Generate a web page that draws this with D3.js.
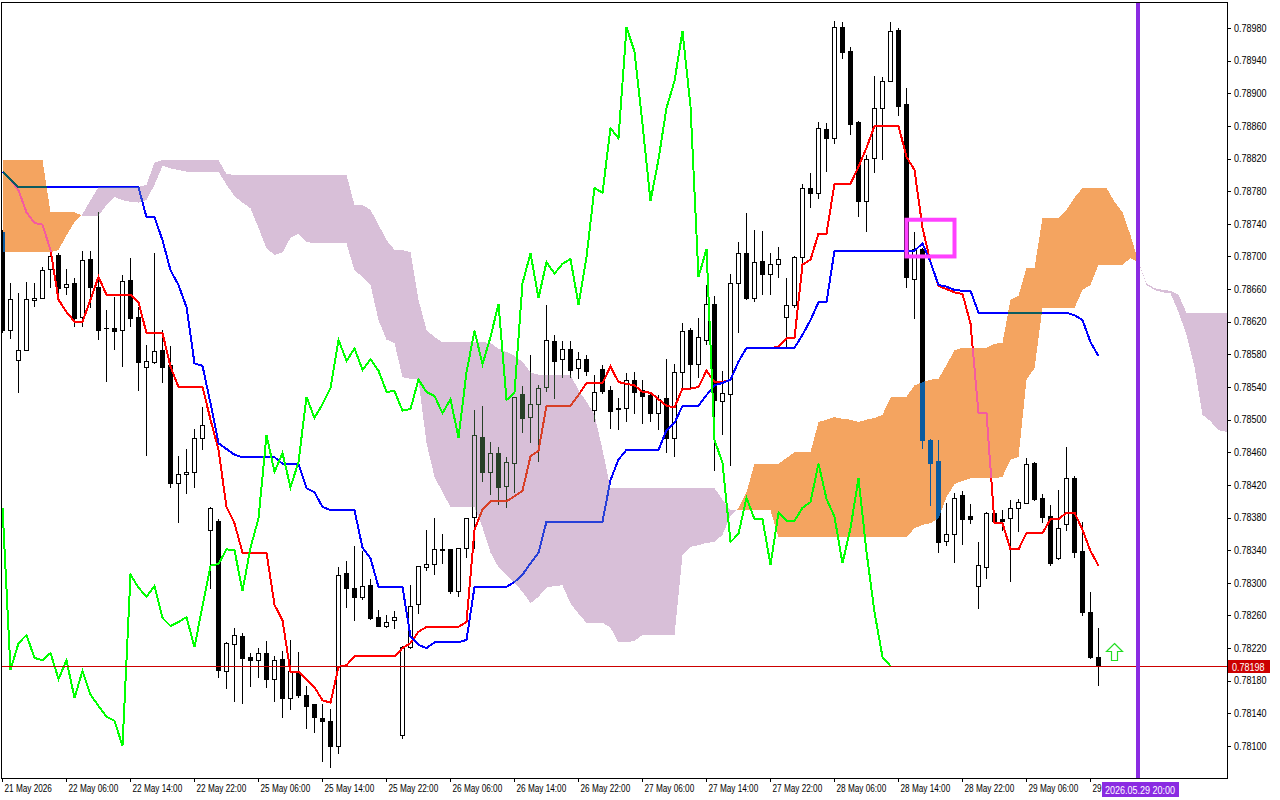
<!DOCTYPE html>
<html><head><meta charset="utf-8">
<script src="https://cdn.jsdelivr.net/npm/d3@7"></script>
<style>
html,body{margin:0;padding:0;background:#fff;}
svg{display:block;}
text{font-family:"Liberation Sans",Arial,sans-serif;font-size:10px;}
</style></head><body>
<svg id="chart" width="1280" height="800"></svg>
<script>
// ---------- DATA (H1, 21 May 2026 22:00 .. 29 May 2026 15:00) ----------
const opens = [0.78730,0.78610,0.78573,0.78585,0.78647,0.78649,0.78685,0.78702,0.78663,0.78667,
0.78626,0.78697,0.78663,0.78612,0.78612,0.78610,0.78671,0.78626,0.78565,0.78571,
0.78585,0.78567,0.78422,0.78433,0.78436,0.78478,0.78365,0.78376,0.78192,0.78225,
0.78235,0.78209,0.78205,0.78214,0.78182,0.78207,0.78159,0.78190,0.78163,0.78151,
0.78134,0.78131,0.78100,0.78312,0.78294,0.78283,0.78297,0.78258,0.78247,0.78254,
0.78113,0.78221,0.78274,0.78319,0.78323,0.78341,0.78341,0.78290,0.78343,0.78381,
0.78479,0.78436,0.78459,0.78419,0.78447,0.78531,0.78503,0.78519,0.78540,0.78596,
0.78574,0.78587,0.78563,0.78574,0.78512,0.78562,0.78536,0.78514,0.78514,0.78549,
0.78536,0.78530,0.78508,0.78527,0.78478,0.78558,0.78610,0.78568,0.78598,0.78642,
0.78523,0.78531,0.78667,0.78704,0.78649,0.78694,0.78679,0.78691,0.78626,0.78641,
0.78699,0.78784,0.78778,0.78856,0.78845,0.78981,0.78952,0.78865,0.78768,0.78821,
0.78882,0.78915,0.78978,0.78887,0.78672,0.78709,0.78475,0.78449,0.78351,0.78360,
0.78408,0.78382,0.78296,0.78319,0.78386,0.78378,0.78379,0.78392,0.78398,0.78447,
0.78404,0.78382,0.78330,0.78372,0.78428,0.78339,0.78264,0.78209];
const highs = [0.78732,0.78667,0.78655,0.78669,0.78667,0.78687,0.78705,0.78704,0.78685,0.78674,
0.78707,0.78707,0.78755,0.78634,0.78650,0.78677,0.78698,0.78638,0.78592,0.78704,
0.78610,0.78590,0.78455,0.78464,0.78489,0.78516,0.78393,0.78378,0.78228,0.78245,
0.78239,0.78214,0.78220,0.78229,0.78210,0.78216,0.78230,0.78215,0.78174,0.78152,
0.78151,0.78145,0.78319,0.78327,0.78345,0.78339,0.78305,0.78267,0.78261,0.78266,
0.78222,0.78297,0.78321,0.78365,0.78379,0.78360,0.78342,0.78343,0.78379,0.78512,
0.78517,0.78473,0.78467,0.78454,0.78528,0.78541,0.78579,0.78542,0.78641,0.78604,
0.78596,0.78596,0.78583,0.78579,0.78555,0.78567,0.78541,0.78527,0.78557,0.78558,
0.78549,0.78533,0.78530,0.78574,0.78568,0.78618,0.78612,0.78625,0.78665,0.78652,
0.78560,0.78679,0.78718,0.78753,0.78732,0.78731,0.78704,0.78712,0.78674,0.78701,
0.78789,0.78802,0.78865,0.78864,0.78989,0.78987,0.78957,0.78866,0.78824,0.78921,
0.78920,0.78987,0.78980,0.78906,0.78730,0.78710,0.78476,0.78475,0.78398,0.78410,
0.78412,0.78397,0.78350,0.78387,0.78387,0.78389,0.78402,0.78403,0.78453,0.78448,
0.78409,0.78395,0.78414,0.78467,0.78431,0.78375,0.78289,0.78245];
const lows = [0.78607,0.78600,0.78534,0.78585,0.78639,0.78649,0.78663,0.78656,0.78654,0.78615,
0.78615,0.78638,0.78599,0.78547,0.78587,0.78566,0.78615,0.78536,0.78457,0.78569,
0.78546,0.78417,0.78375,0.78410,0.78417,0.78464,0.78294,0.78185,0.78171,0.78155,
0.78153,0.78174,0.78185,0.78172,0.78155,0.78136,0.78145,0.78160,0.78122,0.78117,
0.78082,0.78074,0.78091,0.78270,0.78254,0.78280,0.78256,0.78247,0.78246,0.78245,
0.78110,0.78220,0.78263,0.78316,0.78311,0.78324,0.78288,0.78284,0.78332,0.78343,
0.78425,0.78409,0.78397,0.78393,0.78411,0.78485,0.78473,0.78449,0.78535,0.78527,
0.78552,0.78552,0.78551,0.78555,0.78498,0.78533,0.78490,0.78489,0.78498,0.78508,
0.78496,0.78498,0.78489,0.78460,0.78455,0.78540,0.78540,0.78552,0.78593,0.78438,
0.78482,0.78444,0.78607,0.78648,0.78645,0.78654,0.78654,0.78675,0.78589,0.78638,
0.78690,0.78761,0.78772,0.78805,0.78839,0.78943,0.78850,0.78750,0.78731,0.78804,
0.78819,0.78915,0.78873,0.78663,0.78625,0.78465,0.78395,0.78338,0.78346,0.78326,
0.78348,0.78373,0.78269,0.78306,0.78373,0.78365,0.78302,0.78363,0.78398,0.78402,
0.78375,0.78322,0.78329,0.78365,0.78332,0.78261,0.78208,0.78175];
const closes = [0.78610,0.78648,0.78585,0.78648,0.78649,0.78683,0.78701,0.78661,0.78666,0.78625,
0.78696,0.78663,0.78610,0.78612,0.78609,0.78670,0.78625,0.78571,0.78572,0.78584,
0.78565,0.78422,0.78433,0.78436,0.78478,0.78493,0.78392,0.78193,0.78226,0.78236,
0.78208,0.78205,0.78214,0.78182,0.78205,0.78159,0.78192,0.78163,0.78149,0.78136,
0.78131,0.78100,0.78310,0.78294,0.78283,0.78296,0.78257,0.78247,0.78252,0.78258,
0.78221,0.78272,0.78321,0.78323,0.78341,0.78340,0.78290,0.78343,0.78379,0.78481,
0.78436,0.78459,0.78417,0.78448,0.78528,0.78502,0.78519,0.78539,0.78598,0.78572,
0.78587,0.78561,0.78574,0.78560,0.78534,0.78535,0.78511,0.78513,0.78549,0.78534,
0.78529,0.78508,0.78525,0.78478,0.78558,0.78609,0.78568,0.78601,0.78642,0.78524,
0.78533,0.78667,0.78704,0.78649,0.78693,0.78679,0.78691,0.78697,0.78641,0.78699,
0.78784,0.78778,0.78857,0.78845,0.78981,0.78951,0.78862,0.78768,0.78819,0.78882,
0.78915,0.78976,0.78884,0.78675,0.78709,0.78475,0.78447,0.78350,0.78360,0.78404,
0.78378,0.78378,0.78322,0.78386,0.78376,0.78376,0.78392,0.78399,0.78446,0.78403,
0.78381,0.78324,0.78367,0.78428,0.78338,0.78264,0.78209,0.78198];

// Ichimoku: Tenkan-sen (red), Kijun-sen (blue)
const tenkan = [0.78804,0.78794,0.78781,0.78754,0.78741,0.78739,0.78708,0.78647,0.78632,0.78620,
0.78620,0.78647,0.78675,0.78653,0.78653,0.78653,0.78653,0.78644,0.78606,0.78606,
0.78606,0.78565,0.78540,0.78540,0.78540,0.78540,0.78500,0.78463,0.78393,0.78373,
0.78337,0.78337,0.78337,0.78337,0.78273,0.78254,0.78191,0.78191,0.78181,0.78172,
0.78156,0.78153,0.78197,0.78199,0.78210,0.78210,0.78210,0.78210,0.78210,0.78210,
0.78220,0.78226,0.78240,0.78246,0.78246,0.78246,0.78246,0.78246,0.78252,0.78365,
0.78390,0.78400,0.78400,0.78400,0.78406,0.78413,0.78455,0.78462,0.78517,0.78517,
0.78517,0.78517,0.78530,0.78545,0.78545,0.78545,0.78565,0.78546,0.78544,0.78542,
0.78534,0.78533,0.78525,0.78517,0.78515,0.78538,0.78538,0.78540,0.78560,0.78546,
0.78546,0.78549,0.78571,0.78588,0.78588,0.78588,0.78588,0.78589,0.78600,0.78600,
0.78690,0.78696,0.78728,0.78728,0.78789,0.78789,0.78789,0.78810,0.78833,0.78860,
0.78860,0.78860,0.78860,0.78822,0.78806,0.78735,0.78693,0.78664,0.78660,0.78656,
0.78654,0.78618,0.78508,0.78508,0.78373,0.78373,0.78341,0.78341,0.78361,0.78361,
0.78361,0.78378,0.78378,0.78386,0.78386,0.78365,0.78339,0.78321];
const kijun = [0.78804,0.78794,0.78785,0.78785,0.78785,0.78785,0.78785,0.78785,0.78785,0.78785,
0.78785,0.78785,0.78785,0.78785,0.78785,0.78785,0.78785,0.78785,0.78748,0.78748,
0.78720,0.78683,0.78665,0.78638,0.78569,0.78566,0.78520,0.78471,0.78464,0.78457,
0.78454,0.78454,0.78454,0.78454,0.78454,0.78446,0.78446,0.78446,0.78416,0.78411,
0.78393,0.78389,0.78389,0.78389,0.78389,0.78343,0.78330,0.78295,0.78295,0.78295,
0.78295,0.78234,0.78224,0.78220,0.78227,0.78227,0.78227,0.78227,0.78230,0.78295,
0.78295,0.78295,0.78295,0.78295,0.78301,0.78310,0.78324,0.78337,0.78375,0.78375,
0.78375,0.78375,0.78375,0.78375,0.78375,0.78375,0.78426,0.78451,0.78463,0.78463,
0.78463,0.78463,0.78463,0.78487,0.78496,0.78517,0.78517,0.78517,0.78530,0.78542,
0.78545,0.78549,0.78571,0.78588,0.78588,0.78588,0.78588,0.78588,0.78588,0.78588,
0.78604,0.78622,0.78644,0.78644,0.78707,0.78707,0.78707,0.78707,0.78707,0.78707,
0.78707,0.78707,0.78707,0.78707,0.78707,0.78716,0.78693,0.78665,0.78663,0.78659,
0.78658,0.78658,0.78631,0.78631,0.78631,0.78631,0.78631,0.78631,0.78631,0.78631,
0.78631,0.78631,0.78631,0.78631,0.78628,0.78622,0.78595,0.78578];
// Senkou Span A / B, already shifted 26 bars forward (bars 0..153)
const spanA = [0.78818,0.78818,0.78818,0.78818,0.78818,0.78818,0.78754,0.78754,0.78754,0.78754,
0.78750,0.78750,0.78750,0.78763,0.78773,0.78769,0.78767,0.78766,0.78769,0.78788,
0.78811,0.78808,0.78806,0.78804,0.78804,0.78804,0.78804,0.78804,0.78788,0.78774,
0.78766,0.78759,0.78735,0.78710,0.78702,0.78705,0.78723,0.78728,0.78718,0.78716,
0.78716,0.78716,0.78716,0.78716,0.78683,0.78675,0.78665,0.78622,0.78598,0.78594,
0.78552,0.78550,0.78549,0.78471,0.78430,0.78411,0.78393,0.78393,0.78393,0.78393,
0.78368,0.78337,0.78319,0.78310,0.78300,0.78289,0.78275,0.78283,0.78294,0.78296,
0.78297,0.78275,0.78262,0.78251,0.78251,0.78251,0.78245,0.78227,0.78227,0.78229,
0.78236,0.78236,0.78236,0.78236,0.78236,0.78334,0.78344,0.78346,0.78349,0.78350,
0.78359,0.78382,0.78392,0.78411,0.78446,0.78446,0.78446,0.78446,0.78453,0.78460,
0.78460,0.78460,0.78497,0.78500,0.78503,0.78501,0.78500,0.78497,0.78500,0.78502,
0.78506,0.78527,0.78528,0.78528,0.78542,0.78546,0.78549,0.78550,0.78567,0.78585,
0.78588,0.78588,0.78588,0.78588,0.78593,0.78594,0.78647,0.78652,0.78686,0.78686,
0.78747,0.78747,0.78747,0.78757,0.78772,0.78784,0.78784,0.78784,0.78784,0.78767,
0.78754,0.78726,0.78693,0.78665,0.78659,0.78656,0.78655,0.78632,0.78604,0.78565,
0.78506,0.78498,0.78487,0.78485];
const spanB = [0.78705,0.78705,0.78705,0.78705,0.78705,0.78705,0.78705,0.78708,0.78726,0.78742,
0.78752,0.78769,0.78785,0.78785,0.78785,0.78785,0.78785,0.78785,0.78788,0.78815,
0.78818,0.78818,0.78818,0.78818,0.78818,0.78818,0.78818,0.78818,0.78801,0.78800,
0.78800,0.78800,0.78800,0.78800,0.78800,0.78800,0.78800,0.78800,0.78800,0.78800,
0.78800,0.78800,0.78800,0.78800,0.78763,0.78763,0.78757,0.78739,0.78720,0.78708,
0.78708,0.78705,0.78647,0.78610,0.78601,0.78595,0.78595,0.78595,0.78595,0.78595,
0.78595,0.78594,0.78587,0.78583,0.78578,0.78571,0.78558,0.78555,0.78555,0.78555,
0.78555,0.78555,0.78536,0.78522,0.78506,0.78463,0.78416,0.78416,0.78416,0.78416,
0.78416,0.78416,0.78416,0.78416,0.78416,0.78416,0.78416,0.78416,0.78416,0.78416,
0.78402,0.78389,0.78389,0.78389,0.78389,0.78389,0.78389,0.78356,0.78356,0.78356,
0.78356,0.78356,0.78356,0.78356,0.78356,0.78356,0.78356,0.78356,0.78356,0.78356,
0.78356,0.78356,0.78356,0.78356,0.78367,0.78371,0.78373,0.78379,0.78405,0.78421,
0.78425,0.78428,0.78428,0.78428,0.78428,0.78430,0.78451,0.78454,0.78549,0.78563,
0.78637,0.78637,0.78637,0.78637,0.78637,0.78659,0.78665,0.78690,0.78690,0.78690,
0.78690,0.78698,0.78693,0.78667,0.78661,0.78659,0.78658,0.78653,0.78631,0.78631,
0.78631,0.78631,0.78631,0.78631];

// axis labels
const priceTicks = [0.78100,0.78140,0.78180,0.78220,0.78260,0.78300,0.78340,0.78380,0.78420,0.78460,
0.78500,0.78540,0.78580,0.78620,0.78660,0.78700,0.78740,0.78780,0.78820,0.78860,0.78900,0.78940,0.78980];
const timeTickBars = [0,8,16,24,32,40,48,56,64,72,80,88,96,104,112,120,128,136];
const timeTickLabels = ["21 May 2026","22 May 06:00","22 May 14:00","22 May 22:00","25 May 06:00",
"25 May 14:00","25 May 22:00","26 May 06:00","26 May 14:00","26 May 22:00","27 May 06:00",
"27 May 14:00","27 May 22:00","28 May 06:00","28 May 14:00","28 May 22:00","29 May 06:00","29 May 14:00"];
const chikouShift = 26;
// chart objects
const vlineBar = 142, vlineLabel = "2026.05.29 20:00";
const boxBars = [113, 119], boxPrices = [0.78745, 0.78700];
const arrowBar = 139, arrowPrice = 0.78226;

// ---------- DRAW ----------
const svg = d3.select("#chart");
const x = d3.scaleLinear().domain([0, 137]).range([2, 1098]);
const y = d3.scaleLinear().domain([0.78100, 0.78980]).range([746, 28]);
const PL = 1.5, PT = 2.5, PR = 1227.5, PB = 778.5;
const VLABEL_X = 1101;

svg.append("rect").attr("width", 1280).attr("height", 800).attr("fill", "#fff");
svg.append("defs").append("clipPath").attr("id", "pc")
  .append("rect").attr("x", 2).attr("y", 3).attr("width", 1225).attr("height", 775);

const g = svg.append("g").attr("clip-path", "url(#pc)");
g.append("rect").attr("x", 0).attr("y", 0).attr("width", 1280).attr("height", 800).attr("fill", "#fff");

// candles
const cg = g.append("g").attr("shape-rendering", "crispEdges");
d3.range(opens.length).forEach(i => {
  const cx = Math.round(x(i));
  const o = opens[i], c = closes[i];
  cg.append("line").attr("x1", cx + 0.5).attr("x2", cx + 0.5)
    .attr("y1", Math.round(y(highs[i]))).attr("y2", Math.round(y(lows[i])) + 1)
    .attr("stroke", "#000").attr("stroke-width", 1);
  const top = Math.round(y(Math.max(o, c))), bot = Math.round(y(Math.min(o, c)));
  if (bot - top < 1) {
    cg.append("rect").attr("x", cx - 2).attr("y", top).attr("width", 5).attr("height", 1).attr("fill", "#000");
  } else if (c > o) {
    cg.append("rect").attr("x", cx - 1.5).attr("y", top + 0.5).attr("width", 4).attr("height", bot - top)
      .attr("fill", "#fff").attr("stroke", "#000").attr("stroke-width", 1);
  } else {
    cg.append("rect").attr("x", cx - 2).attr("y", top).attr("width", 5).attr("height", bot - top + 1).attr("fill", "#000");
  }
});

const line = d3.line().x(d => x(d[0]) + 0.5).y(d => y(d[1]));
g.append("path").attr("d", line(tenkan.map((v, i) => [i, v]))).attr("fill", "none")
  .attr("stroke", "#ff0000").attr("stroke-width", 2).attr("shape-rendering", "crispEdges");
g.append("path").attr("d", line(kijun.map((v, i) => [i, v]))).attr("fill", "none")
  .attr("stroke", "#0000ff").attr("stroke-width", 2).attr("shape-rendering", "crispEdges");

// kumo (difference blending reproduces the terminal's XOR-style fill)
const cloud = g.append("g").style("mix-blend-mode", "difference").attr("shape-rendering", "crispEdges");
const ORANGE_INV = "rgb(11,91,159)", THISTLE_INV = "rgb(39,64,39)";
const poly = pts => "M" + pts.map(p => [x(p[0]) + 0.5, y(p[1])].join(",")).join("L") + "Z";
for (let i = 0; i < spanA.length - 1; i++) {
  const a0 = spanA[i], b0 = spanB[i], a1 = spanA[i + 1], b1 = spanB[i + 1];
  const d0 = a0 - b0, d1 = a1 - b1;
  if ((d0 >= 0 && d1 >= 0) || (d0 <= 0 && d1 <= 0)) {
    cloud.append("path").attr("d", poly([[i, a0], [i + 1, a1], [i + 1, b1], [i, b0]]))
      .attr("fill", (d0 + d1) >= 0 ? ORANGE_INV : THISTLE_INV);
  } else {
    const t = d0 / (d0 - d1), xi = i + t, pi = a0 + t * (a1 - a0);
    cloud.append("path").attr("d", poly([[i, a0], [xi, pi], [i, b0]])).attr("fill", d0 > 0 ? ORANGE_INV : THISTLE_INV);
    cloud.append("path").attr("d", poly([[xi, pi], [i + 1, a1], [i + 1, b1]])).attr("fill", d1 > 0 ? ORANGE_INV : THISTLE_INV);
  }
}

// chikou span
const chikou = closes.slice(chikouShift).map((v, i) => [i, v]);
g.append("path").attr("d", line(chikou)).attr("fill", "none")
  .attr("stroke", "#00ff00").attr("stroke-width", 2).attr("shape-rendering", "crispEdges");

// bid line
const bid = closes[closes.length - 1];
const by = Math.round(y(bid)) + 0.5;
g.append("line").attr("x1", 0).attr("x2", 1228).attr("y1", by).attr("y2", by)
  .attr("stroke", "#cc0000").attr("stroke-width", 1).attr("shape-rendering", "crispEdges");

// vertical line
const vx = Math.round(x(vlineBar));
g.append("rect").attr("x", vx - 2).attr("y", 0).attr("width", 4).attr("height", 800).attr("fill", "#8a2be2");

// rectangle object
g.append("rect").attr("x", x(boxBars[0]) + 0.5).attr("y", y(boxPrices[0]))
  .attr("width", x(boxBars[1]) - x(boxBars[0])).attr("height", y(boxPrices[1]) - y(boxPrices[0]))
  .attr("fill", "none").attr("stroke", "#ff40ff").attr("stroke-width", 4);

// buy arrow
const ax = Math.round(x(arrowBar)) + 0.5, ay = Math.round(y(arrowPrice)) + 0.5;
g.append("path").attr("d", `M${ax},${ay}L${ax+8},${ay+8}L${ax+3},${ay+8}L${ax+3},${ay+17}L${ax-3},${ay+17}L${ax-3},${ay+8}L${ax-8},${ay+8}Z`)
  .attr("fill", "#fff").attr("stroke", "#22dd22").attr("stroke-width", 1.2);

// frame
svg.append("rect").attr("x", PL).attr("y", PT).attr("width", PR - PL).attr("height", PB - PT)
  .attr("fill", "none").attr("stroke", "#000").attr("shape-rendering", "crispEdges");

function squeeze(sel, f) {
  sel.each(function () {
    const L = this.getComputedTextLength();
    d3.select(this).attr("textLength", L * f).attr("lengthAdjust", "spacingAndGlyphs");
  });
}

// price axis
const yAxis = d3.axisRight(y).tickValues(priceTicks).tickSize(4).tickPadding(3).tickFormat(d3.format(".5f"));
const ya = svg.append("g").attr("transform", "translate(1227,0)").call(yAxis);
ya.select(".domain").remove();
ya.selectAll("line").attr("stroke", "#000").attr("shape-rendering", "crispEdges");
ya.selectAll("text").attr("fill", "#000").style("font-family", '"Liberation Sans",Arial,sans-serif').style("font-size", "10px");
squeeze(ya.selectAll("text"), 0.9);

// time axis
const xAxis = d3.axisBottom(x).tickValues(timeTickBars).tickSize(4).tickFormat((d, i) => timeTickLabels[i]);
const xa = svg.append("g").attr("transform", "translate(0,778)").call(xAxis);
xa.select(".domain").remove();
xa.selectAll("line").attr("stroke", "#000").attr("shape-rendering", "crispEdges");
xa.selectAll("text").attr("fill", "#000").attr("text-anchor", "start").attr("x", 2).attr("y", 7)
  .style("font-family", '"Liberation Sans",Arial,sans-serif').style("font-size", "10px");
// the last label is cut off by the vertical line's time label (as in the terminal): keep the part that shows
xa.selectAll(".tick text").each(function (d) {
  const sel = d3.select(this);
  const room = VLABEL_X + 1 - (x(d) + 0.5 + 2);
  let s = sel.text();
  while (s.length > 2 && this.getComputedTextLength() * 0.82 > room) {
    s = s.slice(0, -1).trimEnd();
    sel.text(s);
  }
});
squeeze(xa.selectAll("text"), 0.82);

// bid label
svg.append("rect").attr("x", 1228).attr("y", by - 6.5).attr("width", 42).attr("height", 13).attr("fill", "#cc0000");
const bt = svg.append("text").attr("x", 1232).attr("y", by + 4).attr("fill", "#fff").text(d3.format(".5f")(bid));
squeeze(bt, 0.9);

// vertical line time label
svg.append("rect").attr("x", VLABEL_X + 1).attr("y", 782).attr("width", 77).attr("height", 15).attr("fill", "#8a2be2");
const vt = svg.append("text").attr("x", VLABEL_X + 4).attr("y", 793.5).attr("fill", "#fff").text(vlineLabel);
squeeze(vt, 0.9);
</script></body></html>
